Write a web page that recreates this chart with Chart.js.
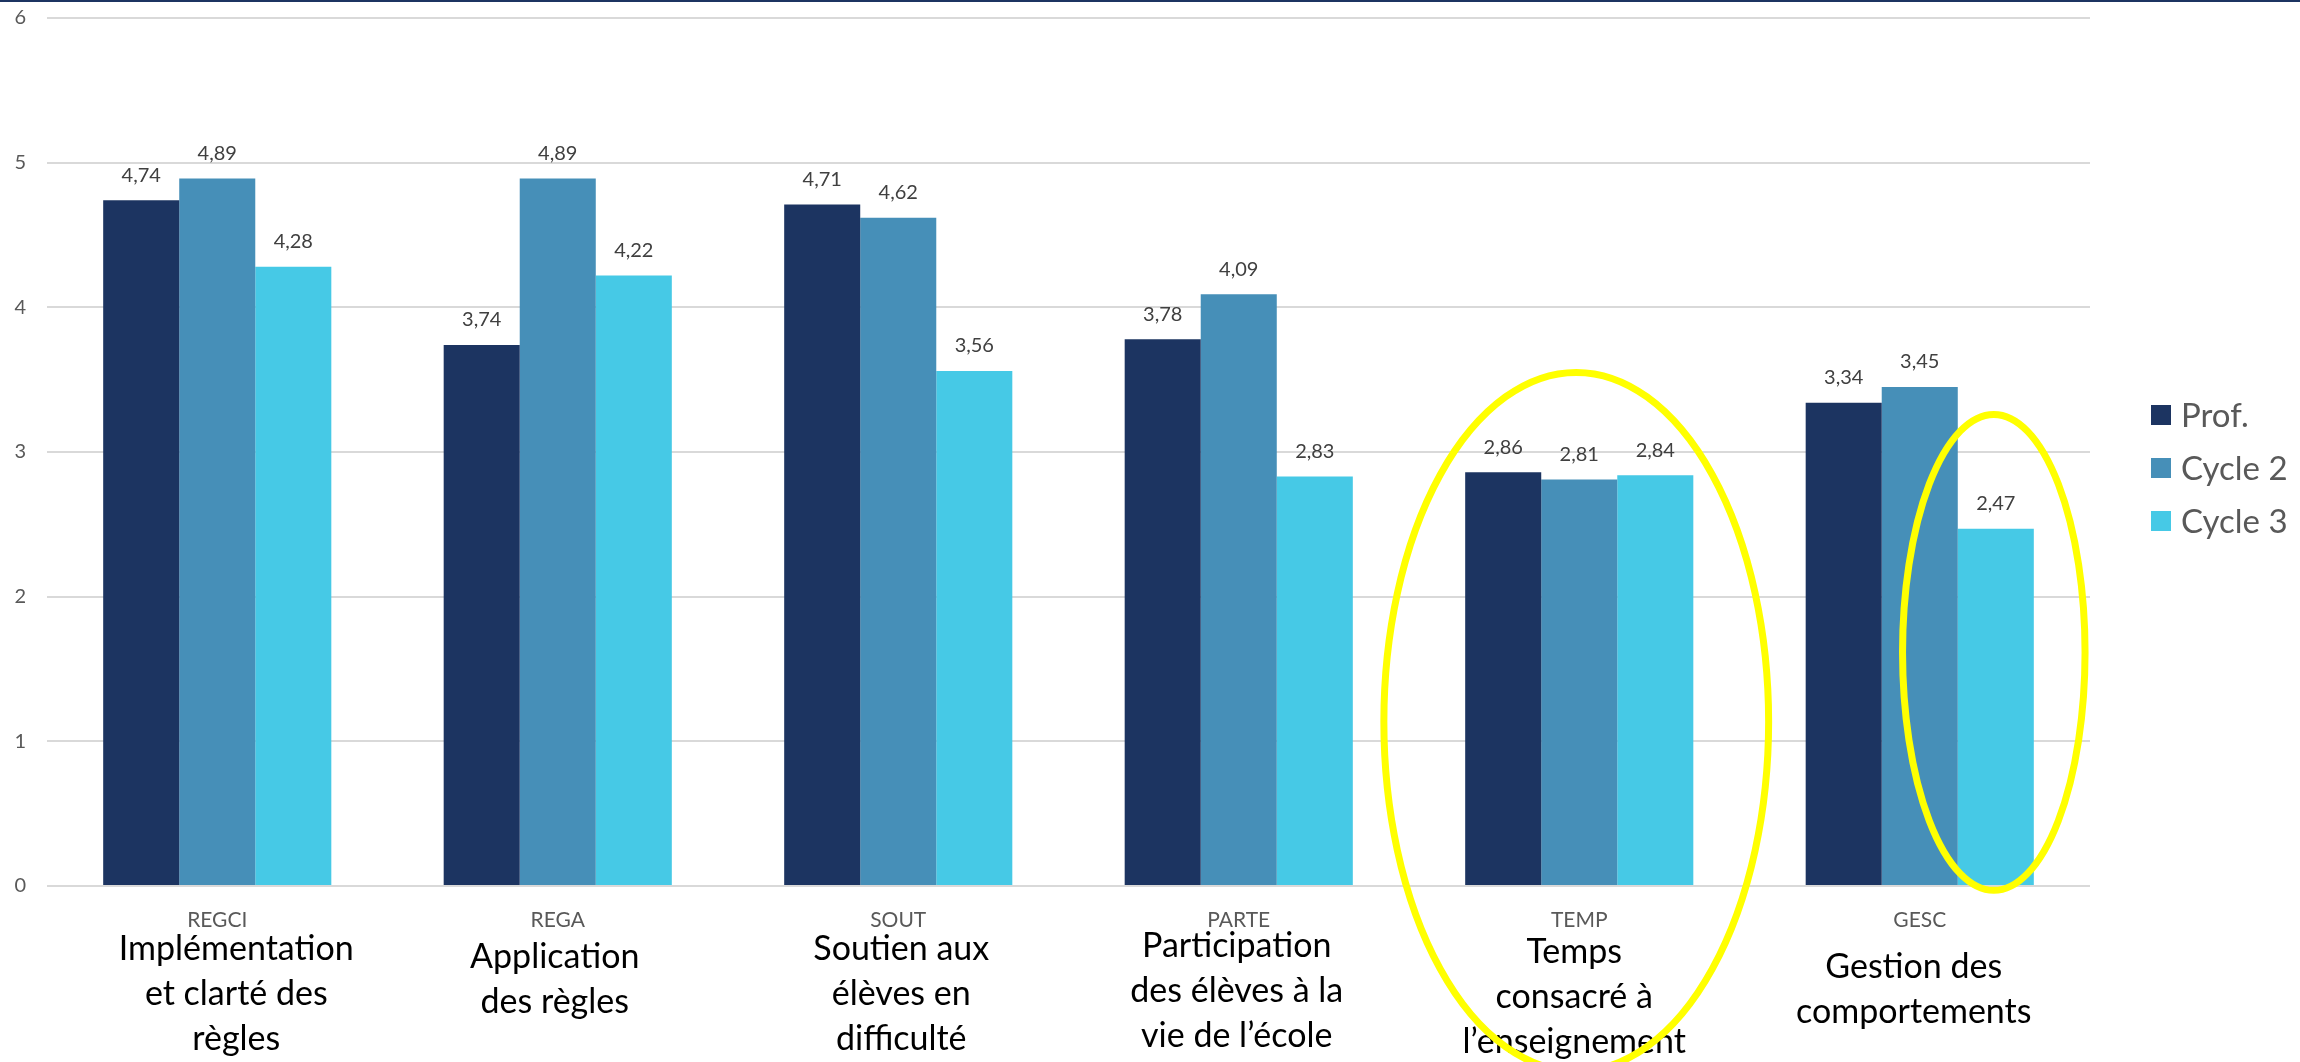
<!DOCTYPE html>
<html>
<head>
<meta charset="utf-8">
<script src="https://cdn.jsdelivr.net/npm/chart.js@4.4.1/dist/chart.umd.min.js"></script>
<style>
  html, body { margin: 0; padding: 0; background: #ffffff; }
  canvas { display: block; }
</style>
</head>
<body>
<canvas id="myChart" width="2300" height="1062"></canvas>
<script>
/* globals Chart:false */

// Data
const categories = ["REGCI", "REGA", "SOUT", "PARTE", "TEMP", "GESC"];
const descriptions = [
    ["Implémentation", "et clarté des", "règles"],
    ["Application", "des règles"],
    ["Soutien aux", "élèves en", "difficulté"],
    ["Participation", "des élèves à la", "vie de l’école"],
    ["Temps", "consacré à", "l’enseignement"],
    ["Gestion des", "comportements"],
];
const seriesNames = ["Prof.", "Cycle 2", "Cycle 3"];
const prof = [4.74, 3.74, 4.71, 3.78, 2.86, 3.34];
const cycle2 = [4.89, 4.89, 4.62, 4.09, 2.81, 3.45];
const cycle3 = [4.28, 4.22, 3.56, 2.83, 2.84, 2.47];
const yTicks = [0, 1, 2, 3, 4, 5, 6];

const colors = ["#1c3461", "#468fb8", "#46c9e6"];
const FONT = "Lato, 'Open Sans', sans-serif";

(() => {
    "use strict";

    // value labels above the bars, french decimal comma
    const valueLabels = {
        id: "valueLabels",
        afterDatasetsDraw(chart) {
            const ctx = chart.ctx;
            ctx.save();
            ctx.font = "20px " + FONT;
            ctx.fillStyle = "#404040";
            ctx.textAlign = "center";
            ctx.textBaseline = "middle";
            chart.data.datasets.forEach((ds, i) => {
                chart.getDatasetMeta(i).data.forEach((bar, j) => {
                    ctx.fillText(ds.data[j].toFixed(2).replace(".", ","), bar.x, bar.y - 25);
                });
            });
            ctx.restore();
        },
    };

    // text boxes under the axis are not all placed the same in the slide
    const descShiftX = [19, -3, 3, -2, -5, -6];
    const descTopY = [949, 957, 949, 946, 952, 967];

    // long labels under the codes, legend, top rule and highlight ellipses
    const extras = {
        id: "extras",
        afterDraw(chart) {
            const ctx = chart.ctx;
            const x = chart.scales.x;
            const y = chart.scales.y;
            ctx.save();

            // top rule
            ctx.fillStyle = "#1c3461";
            ctx.fillRect(0, 0, chart.width, 2);

            // descriptions
            ctx.font = "34px " + FONT;
            ctx.fillStyle = "#000000";
            ctx.textAlign = "center";
            ctx.textBaseline = "middle";
            descriptions.forEach((lines, i) => {
                const cx = x.getPixelForValue(i) + descShiftX[i];
                lines.forEach((line, k) => {
                    ctx.fillText(line, cx, descTopY[i] + k * 45);
                });
            });

            // legend
            ctx.font = "33px " + FONT;
            ctx.textAlign = "left";
            seriesNames.forEach((name, i) => {
                const cy = 415 + i * 53;
                ctx.fillStyle = colors[i];
                ctx.fillRect(2151, cy - 10, 20, 20);
                ctx.fillStyle = "#595959";
                ctx.fillText(name, 2181, cy + 1);
            });

            // yellow ellipses
            const catW = x.getPixelForValue(1) - x.getPixelForValue(0);
            ctx.strokeStyle = "#ffff00";
            ctx.lineWidth = 7;

            const tempX = x.getPixelForValue(4) - 3;
            const tTop = y.getPixelForValue(3.55);
            const tBot = y.getPixelForValue(-1.28);
            ctx.beginPath();
            ctx.ellipse(tempX, (tTop + tBot) / 2, catW * 0.565, (tBot - tTop) / 2, 0, 0, Math.PI * 2);
            ctx.stroke();

            const gescBar = chart.getDatasetMeta(2).data[5];
            const gTop = y.getPixelForValue(3.26);
            const gBot = y.getPixelForValue(-0.03);
            ctx.beginPath();
            ctx.ellipse(gescBar.x - 2, (gTop + gBot) / 2, catW * 0.268, (gBot - gTop) / 2, 0, 0, Math.PI * 2);
            ctx.stroke();

            ctx.restore();
        },
    };

    const ctx = document.getElementById("myChart");
    // eslint-disable-next-line no-unused-vars
    const myChart = new Chart(ctx, {
        type: "bar",
        data: {
            labels: categories,
            datasets: [prof, cycle2, cycle3].map((values, i) => ({
                label: seriesNames[i],
                data: values,
                backgroundColor: colors[i],
                borderWidth: 0,
                barPercentage: 1,
                categoryPercentage: 0.67,
            })),
        },
        options: {
            responsive: false,
            animation: false,
            layout: {
                padding: { top: 18, right: 210, left: 0, bottom: 0 },
            },
            plugins: {
                legend: { display: false },
                tooltip: { enabled: false },
            },
            scales: {
                x: {
                    grid: { display: false },
                    border: { display: false },
                    ticks: {
                        font: { family: FONT, size: 21 },
                        color: "#595959",
                        padding: 14,
                        maxRotation: 0,
                    },
                    afterFit(scale) {
                        scale.height = 176;
                    },
                },
                y: {
                    min: 0,
                    max: 6,
                    afterBuildTicks(scale) {
                        scale.ticks = yTicks.map((v) => ({ value: v }));
                    },
                    grid: {
                        color: "#d9d9d9",
                        lineWidth: 2,
                        drawTicks: false,
                    },
                    border: { display: false },
                    ticks: {
                        font: { family: FONT, size: 20 },
                        color: "#595959",
                        padding: 21,
                    },
                    afterFit(scale) {
                        scale.width = 47;
                        scale.paddingTop = 0;
                        scale.paddingBottom = 0;
                    },
                },
            },
        },
        plugins: [valueLabels, extras],
    });
})();
</script>
</body>
</html>
